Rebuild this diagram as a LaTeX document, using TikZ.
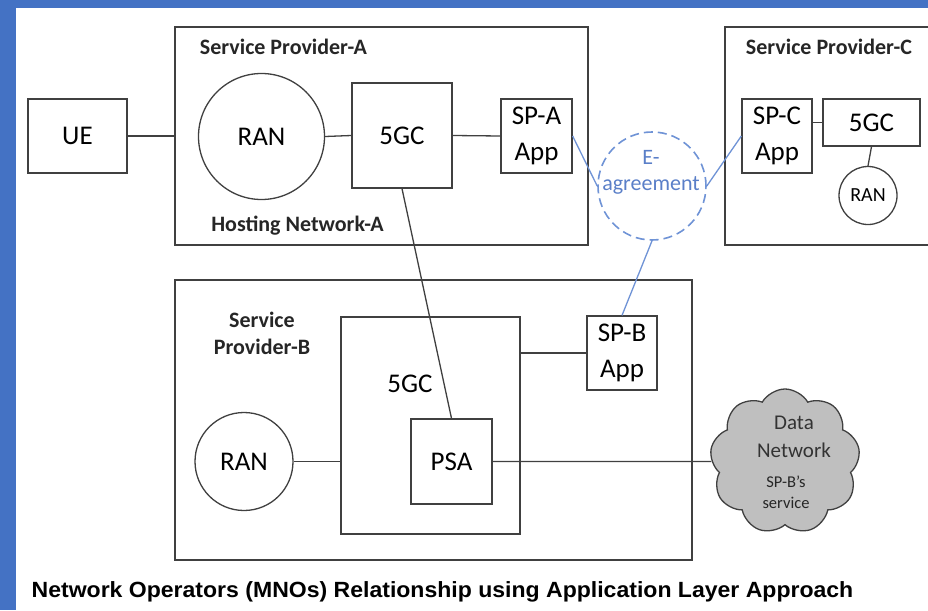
\documentclass[tikz,border=0pt]{standalone}
\usepackage{fontspec}
\setmainfont{Carlito}
\newfontfamily\capfont{Liberation Sans}
\usetikzlibrary{shapes.symbols}
\definecolor{bord}{HTML}{4472C4}
\definecolor{lc}{HTML}{404040}
\definecolor{eblue}{HTML}{6F93D6}
\definecolor{etext}{HTML}{5A7FC8}
\definecolor{cloudgray}{HTML}{BFBFBF}
\tikzset{
  ln/.style={draw=lc, line width=1.3pt},
  box/.style={ln, rectangle, inner sep=0pt, align=center, font=\fontsize{27}{36}\selectfont},
  container/.style={ln, rectangle, inner sep=0pt},
  circ/.style={ln, circle, inner sep=0pt, font=\fontsize{27}{33}\selectfont},
  lbl/.style={inner sep=0pt, anchor=base, font=\fontsize{22}{26}\selectfont\bfseries, text=black!85},
  elbl/.style={inner sep=0pt, anchor=base, font=\fontsize{22}{26}\selectfont, text=etext},
  blink/.style={draw=eblue, line width=1.3pt},
}
\begin{document}
\begin{tikzpicture}[x=1pt,y=-1pt]
\useasboundingbox (0,0) rectangle (928,610);
\clip (0,0) rectangle (928,610);
\fill[bord] (0,0) rectangle (928,610);
\fill[white] (16,8) rectangle (940,620);
% containers
\node[container, minimum width=413pt, minimum height=218pt] (spA) at (381.5,136) {};
\node[container, minimum width=215pt, minimum height=218pt] (spC) at (832.5,136) {};
\node[container, minimum width=517pt, minimum height=280pt] (spB) at (433.5,420) {};
\node[container, minimum width=179pt, minimum height=217pt] (gcB) at (430.5,425.5) {};
% SP-A contents
\node[box, minimum width=99pt, minimum height=74pt] (ue) at (77.5,136) {UE};
\node[circ, minimum size=126pt] (ranA) at (261.5,136.5) {RAN};
\node[box, minimum width=100pt, minimum height=105pt] (gcA) at (402,135.5) {5GC};
\node[box, minimum width=71pt, minimum height=74pt] (appA) at (536.5,136) {SP-A\\App};
\node[lbl] (tA) at (283.5,55) {Service Provider-A};
\node[lbl] (tH) at (297.5,231) {Hosting Network-A};
% E-agreement
\node[circle, draw=eblue, line width=1.6pt, dash pattern=on 9pt off 5pt, minimum size=108pt, inner sep=0pt] (eag) at (652,186) {};
\node[elbl] (eE) at (651,164) {E-};
\node[elbl] (eAg) at (651,190) {agreement};
% SP-C contents
\node[lbl] (tC) at (829,55) {Service Provider-C};
\node[box, minimum width=70pt, minimum height=74pt] (appC) at (777,136) {SP-C\\App};
\node[box, minimum width=97pt, minimum height=47pt] (gcC) at (871.5,122.5) {5GC};
\node[circ, minimum size=58pt, font=\fontsize{20}{24}\selectfont] (ranC) at (868,195.5) {RAN};
% SP-B contents
\node[lbl, align=center, anchor=center, font=\fontsize{22}{27}\selectfont\bfseries] (tB) at (262,333) {Service\\Provider-B};
\node[inner sep=0pt, anchor=base, font=\fontsize{27}{33}\selectfont] (tgB) at (410,392) {5GC};
\node[box, minimum width=81pt, minimum height=85pt] (psa) at (451.5,461.5) {PSA};
\node[circ, minimum size=98pt] (ranB) at (244,461.5) {RAN};
\node[box, minimum width=70pt, minimum height=74pt] (appB) at (622,353) {SP-B\\App};
\node[cloud, cloud puffs=9, cloud puff arc=120, aspect=1.05, draw=lc, line width=1.3pt, fill=cloudgray, minimum width=150pt, minimum height=145pt, inner sep=0pt] (cloud) at (785,461.5) {};
\node[inner sep=0pt, anchor=base, font=\fontsize{21}{24}\selectfont, text=black!80] (cd1) at (794,429) {Data};
\node[inner sep=0pt, anchor=base, font=\fontsize{21}{24}\selectfont, text=black!80] (cd2) at (794,457) {Network};
\node[inner sep=0pt, anchor=base, font=\fontsize{16.5}{20}\selectfont, text=black!85] (cd3) at (786,487) {SP-B’s};
\node[inner sep=0pt, anchor=base, font=\fontsize{16.5}{20}\selectfont, text=black!85] (cd4) at (786,508) {service};
% caption
\node[inner sep=0pt, anchor=base, font=\capfont\bfseries\fontsize{22}{26}\selectfont] (cap) at (442.5,597) {\scalebox{1.047}[1]{Network Operators (MNOs) Relationship using Application Layer Approach}};
% connectors
\draw[ln] (ue.east) -- (ue.east -| spA.west);
\draw[ln] (ranA.east) -- (gcA.west);
\draw[ln] (gcA.east) -- (appA.west);
\draw[ln] (gcA.south) -- (psa.north);
\draw[ln] (gcC.west) -- (gcC.west -| appC.east);
\draw[ln] (gcC.south) -- (ranC.north);
\draw[ln] (ranB.east) -- (ranB.east -| gcB.west);
\draw[ln] (appB.west) -- (appB.west -| gcB.east);
\draw[ln] (psa.east) -- (cloud.west);
\draw[blink] (appA.east) -- (eag.west);
\draw[blink] (appC.west) -- (eag.east);
\draw[blink] (eag.south) -- (appB.north);
\end{tikzpicture}
\end{document}
